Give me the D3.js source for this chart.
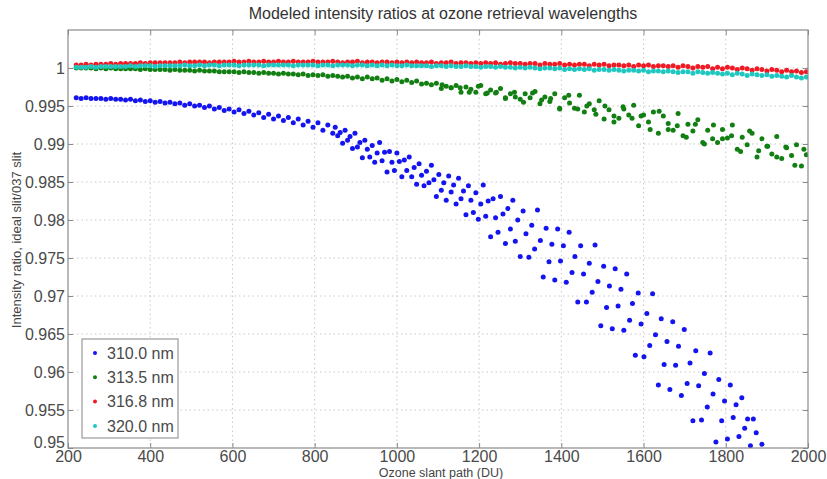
<!DOCTYPE html>
<html>
<head>
<meta charset="utf-8">
<script src="https://cdn.jsdelivr.net/npm/d3@7"></script>
<style>
  body { margin: 0; background: #fff; }
  svg { display: block; font-family: "Liberation Sans", Arial, sans-serif; }
</style>
</head>
<body>
<svg id="chart"></svg>
<script>
// sample positions (DU) shared by the dense parts of the series
const xs = [
  220,232,244,256,268,280,292,304,316,328,
  340,352,364,376,388,400,412,424,436,448,
  460,472,484,496,508,520,532,544,556,568,
  580,592,604,616,628,640,652,664,676,688,
  700,712,724,736,748,760,772,784,796,808,
  820,832,844,856,868,880,892,904,916,928,
  940,952,964,976,988,1000,1012,1024,1036,1048,
  1060,1072,1084,1096,1108,1120,1132,1144,1156,1168,
  1180,1192,1204,1216,1228,1240,1252,1264,1276,1288,
  1300,1312,1324,1336,1348,1360,1372,1384,1396,1408,
  1420,1432,1444,1456,1468,1480,1492,1504,1516,1528,
  1540,1552,1564,1576,1588,1600,1612,1624,1636,1648,
  1660,1672,1684,1696,1708,1720,1732,1744,1756,1768,
  1780,1792,1804,1816,1828,1840,1852,1864,1876,1888,
  1900,1912,1924,1936,1948,1960,1972,1984,1996
];

// 310.0 nm - dense part (first 53 xs) then scattered part
const blueY = [
  0.9961,0.9960,0.9961,0.9960,0.9960,0.9960,0.9959,0.9960,0.9959,0.9959,
  0.9958,0.9959,0.9957,0.9958,0.9956,0.9957,0.9955,0.9956,0.9954,0.9955,
  0.9953,0.9954,0.9951,0.9953,0.9950,0.9951,0.9948,0.9950,0.9946,0.9948,
  0.9944,0.9946,0.9942,0.9945,0.9940,0.9943,0.9938,0.9941,0.9935,0.9939,
  0.9933,0.9937,0.9931,0.9935,0.9928,0.9933,0.9925,0.9930,0.9922,0.9928,
  0.9918,0.9925,0.9914
];
const blueScatter = [
  [850,0.9922],[856,0.9911],[862,0.9915],[868,0.9901],[874,0.9918],[880,0.9905],[886,0.9910],[892,0.9894],
  [898,0.9914],[904,0.9896],[910,0.9902],[916,0.9882],[922,0.9905],[928,0.9893],[934,0.9883],[940,0.9898],
  [946,0.9876],[952,0.9888],[958,0.9902],[964,0.9878],[970,0.9889],[976,0.9863],[982,0.9890],[988,0.9876],
  [994,0.9865],[1000,0.9888],[1006,0.9877],[1012,0.9857],[1018,0.9879],[1024,0.9865],[1030,0.9883],
  [1036,0.9857],[1042,0.9869],[1048,0.9847],[1054,0.9874],[1060,0.9859],[1066,0.9845],[1072,0.9864],
  [1078,0.9849],[1084,0.9872],[1090,0.9853],[1096,0.9831],[1102,0.9860],[1108,0.9839],[1114,0.9849],
  [1120,0.9826],[1126,0.9858],[1132,0.9837],[1138,0.9846],[1144,0.9821],[1150,0.9855],[1156,0.9828],
  [1162,0.9838],[1168,0.9807],[1174,0.9845],[1180,0.9826],[1186,0.9810],[1192,0.9836],[1198,0.9801],
  [1204,0.9821],[1210,0.9846],[1216,0.9805],[1222,0.9825],[1228,0.9778],[1234,0.9828],[1240,0.9803],
  [1246,0.9784],[1252,0.9831],[1258,0.9808],[1264,0.9769],[1270,0.9815],[1276,0.9788],[1282,0.9826],
  [1288,0.9772],[1294,0.9800],[1300,0.9752],[1307,0.9812],[1314,0.9782],[1321,0.9751],[1328,0.9793],
  [1335,0.9762],[1342,0.9813],[1349,0.9773],[1356,0.9725],[1363,0.9789],[1370,0.9745],[1377,0.9768],
  [1384,0.9721],[1391,0.9788],[1398,0.9746],[1405,0.9766],[1412,0.9718],[1419,0.9784],[1426,0.9731],
  [1433,0.9752],[1440,0.9692],[1447,0.9766],[1454,0.9729],[1461,0.9692],[1468,0.9743],[1475,0.9705],
  [1482,0.9767],[1489,0.9719],[1496,0.9661],[1503,0.9739],[1510,0.9685],[1517,0.9713],[1524,0.9657],
  [1531,0.9736],[1538,0.9687],[1545,0.9709],[1552,0.9655],[1559,0.9729],[1566,0.9668],[1573,0.9690],
  [1580,0.9622],[1587,0.9704],[1594,0.9663],[1601,0.9620],[1608,0.9677],[1615,0.9635],[1622,0.9703],
  [1629,0.9649],[1636,0.9583],[1643,0.9670],[1650,0.9610],[1657,0.9640],[1664,0.9577],[1671,0.9666],
  [1678,0.9609],[1685,0.9634],[1692,0.9569],[1699,0.9656],[1706,0.9585],[1713,0.9612],[1720,0.9536],
  [1727,0.9628],[1734,0.9582],[1741,0.9537],[1748,0.9598],[1755,0.9554],[1762,0.9625],[1769,0.9571],
  [1776,0.9508],[1783,0.9590],[1790,0.9536],[1797,0.9562],[1804,0.9512],[1811,0.9583],[1818,0.9540],
  [1825,0.9557],[1832,0.9515],[1839,0.9566],[1846,0.9526],[1853,0.9538],[1860,0.9503],[1867,0.9538],
  [1874,0.9520],[1888,0.9505]
];

// 313.5 nm
const greenY = [
  1.0000,1.0000,1.0000,1.0000,0.9999,1.0000,0.9999,1.0000,0.9999,0.9999,
  0.9999,0.9999,0.9999,0.9998,0.9999,0.9998,0.9998,0.9998,0.9998,0.9997,
  0.9998,0.9997,0.9997,0.9997,0.9996,0.9997,0.9996,0.9996,0.9996,0.9995,
  0.9995,0.9995,0.9995,0.9994,0.9995,0.9994,0.9994,0.9993,0.9994,0.9993,
  0.9993,0.9992,0.9993,0.9992,0.9992,0.9991,0.9992,0.9990,0.9991,0.9990,
  0.9991,0.9989,0.9990,0.9989,0.9988,0.9989,0.9987,0.9988,0.9986,0.9988,
  0.9986,0.9987,0.9984,0.9986,0.9983,0.9985,0.9982,0.9984,0.9981,0.9983,
  0.9979,0.9980,0.9978,0.9980,0.9973,0.9976,0.9974,0.9977,0.9968,0.9975,
  0.9972,0.9968,0.9977,0.9966,0.9971,0.9967,0.9973,0.9960,0.9966,0.9962,
  0.9959,0.9966,0.9961,0.9969,0.9953,0.9962,0.9956,0.9966,0.9946,0.9961,
  0.9954,0.9947,0.9964,0.9942,0.9953,0.9945,0.9957,0.9933,0.9945,0.9937,
  0.9934,0.9946,0.9938,0.9951,0.9924,0.9938,0.9929,0.9942,0.9914,0.9937,
  0.9927,0.9918,0.9940,0.9911,0.9926,0.9917,0.9932,0.9902,0.9918,0.9907,
  0.9902,0.9919,0.9908,0.9925,0.9893,0.9909,0.9899,0.9914,0.9883,0.9907,
  0.9897,0.9887,0.9910,0.9881,0.9895,0.9885,0.9899,0.9871,0.9886
];
const greenExtra = [
  [1110,0.9978],[1132,0.9974],[1154,0.9974],[1176,0.9968],[1198,0.9976],[1220,0.9967],[1242,0.9968],
  [1264,0.9961],[1286,0.9968],[1308,0.9955],[1330,0.9967],[1352,0.9958],[1374,0.9960],[1396,0.9947],
  [1418,0.9964],[1440,0.9946],[1462,0.9950],[1484,0.9939],[1506,0.9950],[1528,0.9929],[1550,0.9949],
  [1572,0.9934],[1594,0.9937],[1616,0.9919],[1638,0.9943],[1660,0.9919],[1682,0.9924],[1704,0.9909],
  [1726,0.9926],[1748,0.9900],[1770,0.9925],[1792,0.9907],[1814,0.9911],[1836,0.9890],[1858,0.9917],
  [1880,0.9891],[1902,0.9897],[1924,0.9883],[1946,0.9896],[1968,0.9872],[1990,0.9893]
];

// 316.8 nm
const redY = [
  1.0004,1.0004,1.0005,1.0004,1.0005,1.0005,1.0005,1.0006,1.0005,1.0006,
  1.0006,1.0006,1.0006,1.0007,1.0006,1.0007,1.0007,1.0007,1.0007,1.0007,
  1.0007,1.0008,1.0007,1.0008,1.0008,1.0008,1.0008,1.0007,1.0008,1.0008,
  1.0008,1.0008,1.0009,1.0008,1.0008,1.0009,1.0008,1.0008,1.0009,1.0008,
  1.0008,1.0009,1.0008,1.0008,1.0009,1.0008,1.0008,1.0008,1.0009,1.0008,
  1.0008,1.0008,1.0009,1.0008,1.0007,1.0008,1.0008,1.0009,1.0007,1.0008,
  1.0008,1.0007,1.0008,1.0008,1.0007,1.0008,1.0007,1.0008,1.0007,1.0008,
  1.0007,1.0007,1.0008,1.0006,1.0007,1.0007,1.0008,1.0006,1.0007,1.0007,
  1.0006,1.0007,1.0006,1.0007,1.0006,1.0007,1.0005,1.0006,1.0007,1.0006,
  1.0006,1.0005,1.0006,1.0006,1.0004,1.0006,1.0005,1.0005,1.0006,1.0004,
  1.0005,1.0004,1.0005,1.0005,1.0003,1.0005,1.0004,1.0005,1.0003,1.0004,
  1.0004,1.0003,1.0004,1.0002,1.0004,1.0003,1.0004,1.0002,1.0003,1.0003,
  1.0002,1.0003,1.0001,1.0003,1.0002,1.0000,1.0002,1.0001,1.0002,0.9999,
  1.0001,0.9999,1.0001,1.0000,0.9998,1.0000,0.9999,0.9997,0.9999,0.9998,
  0.9996,0.9998,0.9997,0.9995,0.9997,0.9995,0.9996,0.9994,0.9995
];

// 320.0 nm
const cyanY = [
  1.0001,1.0001,1.0001,1.0002,1.0001,1.0002,1.0002,1.0002,1.0002,1.0002,
  1.0002,1.0003,1.0002,1.0003,1.0003,1.0003,1.0002,1.0003,1.0003,1.0003,
  1.0003,1.0003,1.0004,1.0003,1.0003,1.0004,1.0003,1.0004,1.0004,1.0003,
  1.0004,1.0004,1.0004,1.0003,1.0004,1.0004,1.0004,1.0004,1.0003,1.0004,
  1.0004,1.0004,1.0004,1.0004,1.0003,1.0004,1.0004,1.0004,1.0004,1.0003,
  1.0004,1.0004,1.0003,1.0004,1.0004,1.0004,1.0003,1.0004,1.0004,1.0003,
  1.0004,1.0003,1.0004,1.0003,1.0004,1.0003,1.0003,1.0004,1.0003,1.0003,
  1.0003,1.0003,1.0002,1.0003,1.0003,1.0002,1.0003,1.0002,1.0002,1.0003,
  1.0002,1.0002,1.0001,1.0002,1.0002,1.0001,1.0002,1.0001,1.0001,1.0000,
  1.0001,1.0000,1.0001,1.0000,0.9999,1.0000,1.0000,0.9999,1.0000,0.9998,
  0.9999,0.9998,0.9999,0.9998,0.9999,0.9997,0.9998,0.9998,0.9997,0.9998,
  0.9997,0.9996,0.9997,0.9997,0.9996,0.9997,0.9995,0.9996,0.9996,0.9995,
  0.9996,0.9995,0.9994,0.9995,0.9995,0.9993,0.9995,0.9994,0.9993,0.9994,
  0.9993,0.9992,0.9993,0.9991,0.9993,0.9992,0.9990,0.9992,0.9991,0.9990,
  0.9991,0.9989,0.9990,0.9989,0.9988,0.9990,0.9988,0.9987,0.9988
];

const seriesNames = ["310.0 nm", "313.5 nm", "316.8 nm", "320.0 nm"];
const seriesColors = ["#1414f0", "#127f12", "#f01a24", "#1ec8c0"];
const xTicks = [200, 400, 600, 800, 1000, 1200, 1400, 1600, 1800, 2000];
const yTicks = [0.95, 0.955, 0.96, 0.965, 0.97, 0.975, 0.98, 0.985, 0.99, 0.995, 1];
const yTickLabels = ["0.95", "0.955", "0.96", "0.965", "0.97", "0.975", "0.98", "0.985", "0.99", "0.995", "1"];

const W = 827, H = 479;
const mLeft = 68, mRight = 808, mTop = 30, mBottom = 448;

const svg = d3.select('#chart').attr('width', W).attr('height', H);

const x = d3.scaleLinear().domain([200, 2000]).range([mLeft, mRight]);
const y = d3.scaleLinear().domain([0.95, 1.005]).range([mBottom, mTop]);

//dotted grid
const grid = svg.append('g')
  .attr('stroke', '#c8c8c8')
  .attr('stroke-width', 1)
  .attr('stroke-dasharray', '1.5,3');
grid.selectAll('.gx').data(xTicks.slice(1, -1)).enter().append('line')
  .attr('x1', d => x(d)).attr('x2', d => x(d)).attr('y1', mTop).attr('y2', mBottom);
grid.selectAll('.gy').data(yTicks.slice(1)).enter().append('line')
  .attr('y1', d => y(d)).attr('y2', d => y(d)).attr('x1', mLeft).attr('x2', mRight);

//points
const pts = [
  blueY.map((v, i) => [xs[i], v]).concat(blueScatter),
  greenY.map((v, i) => [xs[i], v]).concat(greenExtra),
  redY.map((v, i) => [xs[i], v]),
  cyanY.map((v, i) => [xs[i], v])
];

svg.append('clipPath').attr('id', 'clip')
  .append('rect').attr('x', mLeft).attr('y', mTop).attr('width', mRight - mLeft).attr('height', mBottom - mTop);

const plot = svg.append('g').attr('clip-path', 'url(#clip)');
pts.forEach(function(list, k) {
  plot.append('g').attr('fill', seriesColors[k])
    .selectAll('circle').data(list).enter().append('circle')
    .attr('cx', d => x(d[0]))
    .attr('cy', d => y(d[1]))
    .attr('r', 2.5);
});

//axes: MATLAB style box with inward ticks on all sides
const axColor = '#8a8a8a';
const xAxisB = d3.axisBottom(x).tickValues(xTicks).tickSize(-5).tickPadding(6).tickFormat(d3.format('d'));
const xAxisT = d3.axisTop(x).tickValues(xTicks).tickSize(-5).tickFormat('');
const yAxisL = d3.axisLeft(y).tickValues(yTicks).tickSize(-5).tickPadding(3).tickFormat((d, i) => yTickLabels[i]);
const yAxisR = d3.axisRight(y).tickValues(yTicks).tickSize(-5).tickFormat('');

function styleAxis(g) {
  g.select('.domain').remove();
  g.selectAll('line').attr('stroke', axColor);
  g.selectAll('text').attr('fill', '#4a4a4a').style('font-size', '16px')
    .style('font-family', '"Liberation Sans", Arial, sans-serif');
}

svg.append('g').attr('transform', 'translate(0,' + mBottom + ')').call(xAxisB).call(styleAxis)
  .selectAll('text').attr('dy', '0.5em');
svg.append('g').attr('transform', 'translate(0,' + mTop + ')').call(xAxisT).call(styleAxis);
const yAxisG = svg.append('g').attr('transform', 'translate(' + mLeft + ',0)').call(yAxisL).call(styleAxis);
// lowest label sits just above the "200" label, as in the original
yAxisG.selectAll('.tick text').filter(d => d === 0.95).attr('dy', '-0.05em');

svg.append('g').attr('transform', 'translate(' + mRight + ',0)').call(yAxisR).call(styleAxis);

svg.append('rect')
  .attr('x', mLeft).attr('y', mTop).attr('width', mRight - mLeft).attr('height', mBottom - mTop)
  .attr('fill', 'none').attr('stroke', axColor).attr('stroke-width', 1.2);

//title and axis labels
svg.append('text')
  .attr('x', 443).attr('y', 19)
  .attr('text-anchor', 'middle')
  .attr('fill', '#333')
  .style('font-size', '16px')
  .text('Modeled intensity ratios at ozone retrieval wavelengths');

svg.append('text')
  .attr('x', 441).attr('y', 477)
  .attr('text-anchor', 'middle')
  .attr('fill', '#444')
  .style('font-size', '12.5px')
  .text('Ozone slant path (DU)');

svg.append('text')
  .attr('transform', 'translate(21,240)rotate(-90)')
  .attr('text-anchor', 'middle')
  .attr('fill', '#444')
  .style('font-size', '13px')
  .text('Intensity ratio, ideal slit/037 slit');

//legend
const lg = svg.append('g').attr('transform', 'translate(82,339)');
lg.append('rect').attr('width', 96).attr('height', 99)
  .attr('fill', '#fff').attr('stroke', '#9a9a9a').attr('stroke-width', 1.2);
const rows = lg.selectAll('.row').data(seriesNames).enter().append('g')
  .attr('transform', (d, i) => 'translate(0,' + (14 + i * 24.3) + ')');
rows.append('circle').attr('cx', 13).attr('cy', 0).attr('r', 2)
  .attr('fill', (d, i) => seriesColors[i]);
rows.append('text').attr('x', 25).attr('y', 0).attr('dy', '0.36em')
  .attr('fill', '#4a4a4a').style('font-size', '16px')
  .text(d => d);
</script>
</body>
</html>
